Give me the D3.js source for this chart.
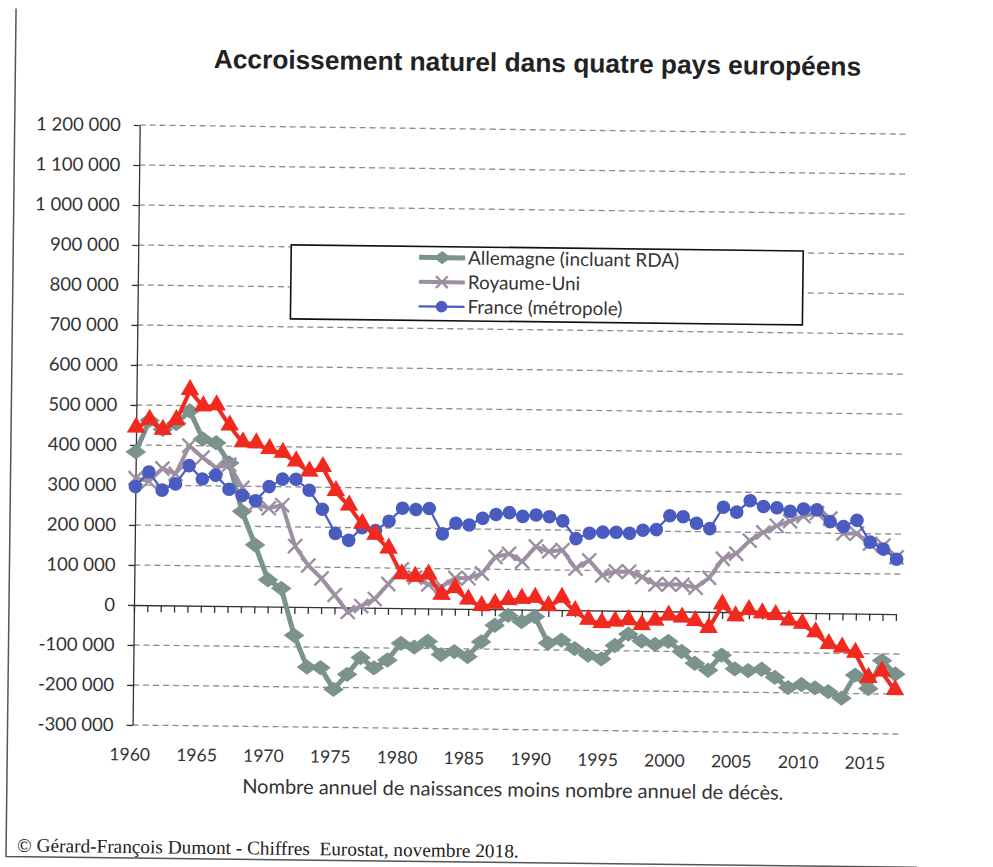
<!DOCTYPE html>
<html><head><meta charset="utf-8">
<script src="https://cdn.jsdelivr.net/npm/d3@7"></script>
<style>body{margin:0;background:#fff}svg{display:block}</style>
</head><body>
<svg id="c" width="993" height="867"></svg>
<script>
// ---- DATA (values in inhabitants) ----
const years = [1960,1961,1962,1963,1964,1965,1966,1967,1968,1969,
  1970,1971,1972,1973,1974,1975,1976,1977,1978,1979,
  1980,1981,1982,1983,1984,1985,1986,1987,1988,1989,
  1990,1991,1992,1993,1994,1995,1996,1997,1998,1999,
  2000,2001,2002,2003,2004,2005,2006,2007,2008,2009,
  2010,2011,2012,2013,2014,2015,2016,2017];
const allemagne = [383000,462000,440000,455000,487000,417000,408000,358000,237000,154000,
  67000,46000,-71000,-150000,-151000,-205000,-167000,-125000,-150000,-130000,
  -88000,-97000,-82000,-115000,-107000,-119000,-82000,-40000,-15000,-30000,
  -17000,-83000,-75000,-96000,-112000,-121000,-87000,-58000,-75000,-83000,
  -75000,-100000,-129000,-146000,-108000,-142000,-146000,-142000,-162000,-187000,
  -179000,-187000,-196000,-212000,-154000,-187000,-117000,-150000];
const royaumeUni = [317000,310000,342000,329000,400000,371000,346000,354000,296000,256000,
  246000,254000,152000,104000,72000,31000,-11000,4000,22000,60000,
  97000,77000,60000,55000,77000,77000,89000,131000,139000,120000,
  158000,146000,150000,104000,125000,88000,98000,98000,85000,67000,
  68000,67000,60000,85000,133000,146000,179000,200000,217000,229000,
  242000,250000,237000,200000,200000,175000,171000,142000];
const france = [296000,333000,288000,304000,350000,317000,327000,292000,277000,264000,
  300000,319000,319000,292000,245000,185000,168000,200000,193000,217000,
  250000,247000,250000,187000,214000,210000,227000,237000,242000,233000,
  237000,233000,223000,179000,193000,196000,196000,194000,202000,204000,
  239000,237000,221000,208000,262000,250000,279000,265000,262000,254000,
  260000,258000,229000,217000,233000,179000,162000,137000];
const italie = [442000,462000,437000,462000,537000,497000,500000,450000,408000,406000,
  392000,383000,362000,337000,349000,289000,253000,208000,181000,147000,
  83000,77000,83000,33000,50000,22000,6000,12000,22000,25000,
  28000,8000,29000,-4000,-25000,-33000,-29000,-25000,-37000,-25000,
  -12000,-17000,-25000,-42000,17000,-12000,4000,-4000,-8000,-21000,
  -29000,-50000,-79000,-87000,-100000,-162000,-146000,-192000];
const yTicks = [-300000,-200000,-100000,0,100000,200000,300000,400000,500000,600000,700000,800000,900000,1000000,1100000,1200000];
const yearLabels = [1960,1965,1970,1975,1980,1985,1990,1995,2000,2005,2010,2015];
const seriesNames = ["Allemagne (incluant RDA)","Royaume-Uni","France (métropole)","Italie"];
const legendNames = ["Allemagne (incluant RDA)","Royaume-Uni","France (métropole)"];
const titleText = "Accroissement naturel dans quatre pays européens";
const xTitle = "Nombre annuel de naissances moins nombre annuel de décès.";
const source = "© Gérard-François Dumont - Chiffres  Eurostat, novembre 2018.";

// ---- STYLES ----
const styles = {
  "Allemagne (incluant RDA)": {color:"#7b928d", width:5, marker:"diamond"},
  "Royaume-Uni": {color:"#9c8fa2", width:4, marker:"cross"},
  "France (métropole)": {color:"#4b5cc0", width:2.2, marker:"circle"},
  "Italie": {color:"#f1291f", width:4, marker:"triangle"}
};
const valuesBy = {
  "Allemagne (incluant RDA)": allemagne, "Royaume-Uni": royaumeUni,
  "France (métropole)": france, "Italie": italie
};

const svg = d3.select("#c");
const root = svg.append("g").attr("transform","rotate(0.68 134 605)");

const x = d3.scalePoint().domain(years).range([134, 896]);
const y = d3.scaleLinear().domain([-300000, 1200000]).range([725, 125]);
const loc = d3.formatLocale({decimal:",", thousands:"\u00a0", grouping:[3], currency:["",""], minus:"-"});
const fmt = loc.format(",d");
const tickFont = "Lato, 'Open Sans', sans-serif";

// frame
root.append("path").attr("d","M9,10 L9,858 L920,858").attr("fill","none").attr("stroke","#555").attr("stroke-width",1.5);

// title
root.append("text").attr("x",531).attr("y",67).attr("text-anchor","middle")
  .attr("font-family","'Liberation Sans', Arial, sans-serif").attr("font-weight","bold")
  .attr("font-size",26.3).attr("fill","#222").text(titleText);

// gridlines
root.append("g").selectAll("line").data(yTicks.filter(d=>d!==0)).join("line")
  .attr("x1",134).attr("x2",902).attr("y1",d=>y(d)).attr("y2",d=>y(d))
  .attr("stroke","#8c8c8c").attr("stroke-width",1.3).attr("stroke-dasharray","6,4");

// y axis
const yAxis = root.append("g").attr("transform","translate(134,0)")
  .call(d3.axisLeft(y).tickValues(yTicks).tickFormat(fmt).tickSize(6).tickSizeOuter(0).tickPadding(13));
yAxis.selectAll("text").attr("font-family",tickFont).attr("font-size",18.5).attr("fill","#333");
yAxis.selectAll("line,path").attr("stroke","#333").attr("stroke-width",1.3);

// x axis on zero line (ticks every year)
const xAxis = root.append("g").attr("transform",`translate(0,${y(0)})`)
  .call(d3.axisBottom(x).tickFormat("").tickSize(7).tickSizeOuter(0));
xAxis.selectAll("line,path").attr("stroke","#333").attr("stroke-width",1.3);

// x labels at bottom
const xLab = root.append("g").attr("transform",`translate(-3,${y(-300000)})`)
  .call(d3.axisBottom(x).tickValues(yearLabels).tickSize(0).tickPadding(23));
xLab.select(".domain").remove();
xLab.selectAll("text").attr("font-family",tickFont).attr("font-size",17.5).attr("fill","#333");

// x title
root.append("text").attr("x",515).attr("y",792).attr("text-anchor","middle")
  .attr("font-family",tickFont).attr("font-size",20).attr("fill","#333").text(xTitle);

// source
root.append("text").attr("x",20).attr("y",853).style("white-space","pre")
  .attr("font-family","'Liberation Serif', 'Times New Roman', serif").attr("font-size",19.3).attr("fill","#222").text(source);

// markers
function drawMarker(g, type, color, cx, cy, s) {
  s = s || 1;
  if (type==="diamond") {
    g.append("path").attr("d", d3.symbol(d3.symbolDiamond2, 150*s*s)()).attr("transform",`translate(${cx},${cy}) scale(1.35,1)`)
      .attr("fill",color);
  } else if (type==="cross") {
    const r = 7*s;
    g.append("path").attr("d",`M${cx-r},${cy-r}L${cx+r},${cy+r}M${cx-r},${cy+r}L${cx+r},${cy-r}`)
      .attr("stroke",color).attr("stroke-width",2.4).attr("fill","none");
  } else if (type==="circle") {
    g.append("circle").attr("cx",cx).attr("cy",cy).attr("r",6.8*s).attr("fill",color);
  } else if (type==="triangle") {
    g.append("path").attr("d", d3.symbol(d3.symbolTriangle, 150*s*s)()).attr("transform",`translate(${cx},${cy-1})`)
      .attr("fill",color);
  }
}

const line = d3.line().x(d=>x(d[0])).y(d=>y(d[1]));
seriesNames.forEach(name => {
  const st = styles[name];
  const pts = years.map((yr,i)=>[yr, valuesBy[name][i]]);
  const g = root.append("g");
  g.append("path").attr("d", line(pts)).attr("fill","none").attr("stroke",st.color)
    .attr("stroke-width",st.width).attr("stroke-linejoin","round");
  pts.forEach(p => drawMarker(g, st.marker, st.color, x(p[0]), y(p[1])));
});

// legend
const lg = root.append("g").attr("transform","translate(287,243)");
lg.append("rect").attr("width",512).attr("height",74).attr("fill","#fff").attr("stroke","#111").attr("stroke-width",1.6);
legendNames.forEach((name,i) => {
  const st = styles[name];
  const cy = 11 + i*24.5;
  lg.append("line").attr("x1",128).attr("x2",174).attr("y1",cy).attr("y2",cy)
    .attr("stroke",st.color).attr("stroke-width",st.width);
  drawMarker(lg, st.marker, st.color, 151, cy, 0.85);
  lg.append("text").attr("x",177).attr("y",cy).attr("dy","0.35em")
    .attr("font-family",tickFont).attr("font-size",18.9).attr("fill","#333").text(name);
});
</script>
</body></html>
